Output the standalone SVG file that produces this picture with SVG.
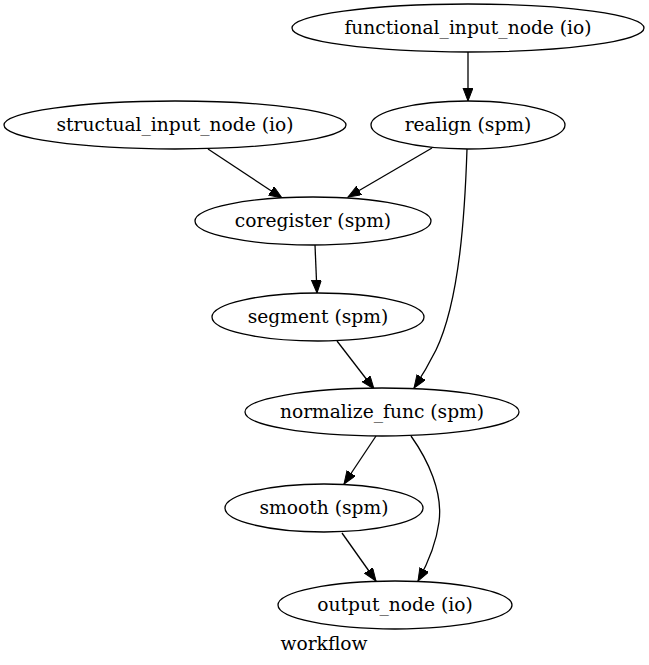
<svg xmlns="http://www.w3.org/2000/svg" width="649" height="665" viewBox="0 0 649 665">
<style>
.n ellipse{fill:#fff;stroke:#000;stroke-width:1.3}
.n text,.lbl{font-family:"DejaVu Serif",serif;font-size:18.67px;fill:#000;text-anchor:middle}
.e path{fill:none;stroke:#000;stroke-width:1.3}
</style>
<defs>
<marker id="a" markerWidth="14" markerHeight="11" refX="13" refY="5" orient="auto" markerUnits="userSpaceOnUse">
<path d="M0,0 L13,5 L0,10 Z" fill="#000" stroke="#000" stroke-width="1"/>
</marker>
</defs>
<rect width="649" height="665" fill="#fff"/>
<g class="e">
<path d="M468,52 L468,101" marker-end="url(#a)"/>
<path d="M208,149 L282,198" marker-end="url(#a)"/>
<path d="M432,148 L348,197" marker-end="url(#a)"/>
<path d="M467,149 C465,210 460,300 436,350 C429,364 422,376 414,388" marker-end="url(#a)"/>
<path d="M315,245 L317,293" marker-end="url(#a)"/>
<path d="M337,341 L374,389" marker-end="url(#a)"/>
<path d="M376,436 L344,484" marker-end="url(#a)"/>
<path d="M411,436 C428,460 443,492 439,522 C436,545 428,563 418,581" marker-end="url(#a)"/>
<path d="M342,533 L376,581" marker-end="url(#a)"/>
</g>
<g id="functional_input_node" class="n"><ellipse cx="468" cy="28" rx="176" ry="24"/><text x="468" y="34">functional_input_node (io)</text></g>
<g id="realign" class="n"><ellipse cx="468" cy="125" rx="97" ry="24"/><text x="468" y="131">realign (spm)</text></g>
<g id="structual_input_node" class="n"><ellipse cx="175" cy="125" rx="171" ry="24"/><text x="175" y="131">structual_input_node (io)</text></g>
<g id="coregister" class="n"><ellipse cx="313" cy="221" rx="118" ry="24"/><text x="313" y="227">coregister (spm)</text></g>
<g id="segment" class="n"><ellipse cx="318" cy="317" rx="106" ry="24"/><text x="318" y="323">segment (spm)</text></g>
<g id="normalize_func" class="n"><ellipse cx="382" cy="412" rx="137" ry="24"/><text x="382" y="418">normalize_func (spm)</text></g>
<g id="smooth" class="n"><ellipse cx="324" cy="508" rx="99" ry="24"/><text x="324" y="514">smooth (spm)</text></g>
<g id="output_node" class="n"><ellipse cx="395" cy="605" rx="117" ry="24"/><text x="395" y="611">output_node (io)</text></g>
<text class="lbl" x="324" y="650">workflow</text>
</svg>
